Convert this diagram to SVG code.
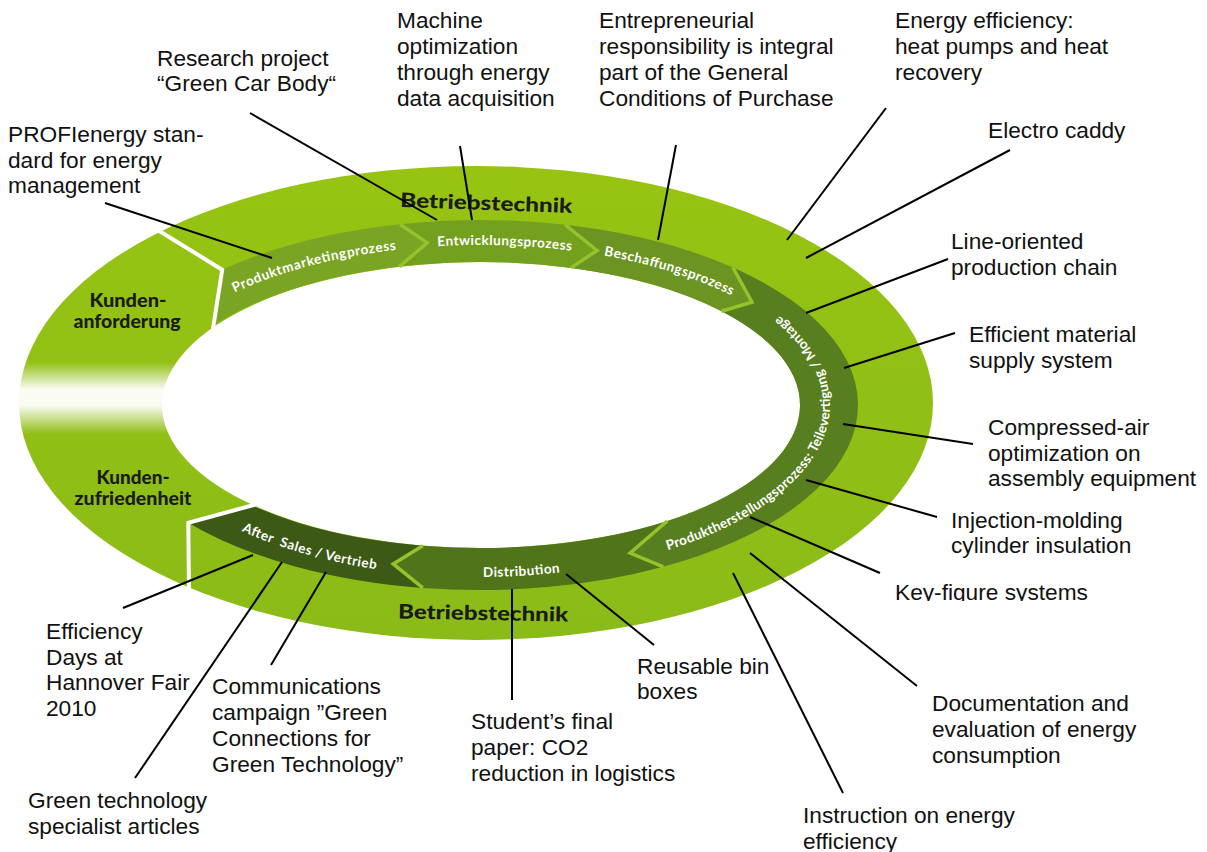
<svg xmlns="http://www.w3.org/2000/svg" width="1207" height="852" viewBox="0 0 1207 852">
<style>
.lbl{font-family:"Liberation Sans",Arial,sans-serif;font-size:22.7px;fill:#111;}
.ring{font-family:Lato,"Open Sans",sans-serif;font-weight:700;font-size:13.5px;fill:#fff;}
.big{font-family:Lato,"Open Sans",sans-serif;font-weight:900;font-size:20px;fill:#1b1b1b;}
.kd{font-family:Lato,"Open Sans",sans-serif;font-weight:900;font-size:18.5px;fill:#1b1b1b;}
.lead{stroke:#000;stroke-width:2;fill:none;}
.chev{fill:none;stroke:#93c42b;stroke-width:3.5;stroke-linejoin:miter;}
.sep{fill:none;stroke:#fff;stroke-width:4;stroke-linejoin:miter;}
</style>
<defs>
<linearGradient id="outerG" x1="0" y1="0" x2="0" y2="1">
<stop offset="0" stop-color="#97c412"/>
<stop offset="1" stop-color="#8bbb18"/>
</linearGradient>
<linearGradient id="fade" x1="0" y1="0" x2="0" y2="1">
<stop offset="0" stop-color="#fff" stop-opacity="0"/>
<stop offset="0.38" stop-color="#fff" stop-opacity="0.95"/>
<stop offset="0.6" stop-color="#fff" stop-opacity="0.95"/>
<stop offset="1" stop-color="#fff" stop-opacity="0"/>
</linearGradient>
<clipPath id="kfClip"><rect x="880" y="570" width="260" height="31"/></clipPath>
<path id="tpA" d="M233,293.3 A345,160 0 0 1 398,249.6"/>
<path id="tpB" d="M437,246.2 A345,160 0 0 1 572,250.8"/>
<path id="tpC" d="M603,255.5 A345,160 0 0 1 732,295.7"/>
<path id="tpD" d="M663,551.6 A350,172 0 0 0 775,312.5"/>
<path id="tpE" d="M483,577 A350,172 0 0 0 560,572.4"/>
<path id="tpF" d="M240,530.2 A350,172 0 0 0 378,569.5"/>
</defs>

<g id="ring-base">
<ellipse cx="476" cy="403" rx="457" ry="237" fill="url(#outerG)"/>
<ellipse cx="481" cy="405" rx="319" ry="143" fill="#fff"/>
<rect x="0" y="362" width="175" height="72" fill="url(#fade)"/>
</g>

<g id="seg-produktmarketing">
<path d="M222.2,269.7 A378,185 0 0 1 400.1,224.2 L427.2,242.9 L399.3,266.6 A320,143 0 0 0 213.2,326.1 Z" fill="#7aa524"/>
<text class="ring"><textPath href="#tpA" startOffset="50%" text-anchor="middle" textLength="168" lengthAdjust="spacing">Produktmarketingprozess</textPath></text>
</g>
<g id="seg-entwicklung">
<path d="M400.1,224.2 A378,185 0 0 1 565,224.7 L597.1,250.5 L570.9,267.9 A320,143 0 0 0 399.3,266.6 L427.2,242.9 Z" fill="#74a01f"/>
<text class="ring"><textPath href="#tpB" startOffset="50%" text-anchor="middle" textLength="134" lengthAdjust="spacing">Entwicklungsprozess</textPath></text>
</g>
<g id="seg-beschaffung">
<path d="M565,224.7 A378,185 0 0 1 732.9,267.5 L752,302.2 L721.5,311.2 A320,143 0 0 0 570.9,267.9 L597.1,250.5 Z" fill="#6b9422"/>
<text class="ring"><textPath href="#tpC" startOffset="50%" text-anchor="middle" textLength="134" lengthAdjust="spacing">Beschaffungsprozess</textPath></text>
</g>
<g id="seg-produktherstellung">
<path d="M732.9,267.5 A378,185 0 0 1 663.3,566.8 L630.2,553 L667.2,521 A320,143 0 0 0 721.5,311.2 L752,302.2 Z" fill="#587f1f"/>
<text class="ring"><textPath href="#tpD" startOffset="50%" text-anchor="middle" textLength="338" lengthAdjust="spacing">Produktherstellungsprozess: Teilevertigung / Montage</textPath></text>
</g>
<g id="seg-distribution">
<path d="M663.3,566.8 A378,185 0 0 1 422.8,587.9 L393.2,563.9 L422.8,545.7 A320,143 0 0 0 667.2,521 L630.2,553 Z" fill="#4f7419"/>
<text class="ring"><textPath href="#tpE" startOffset="50%" text-anchor="middle" textLength="77" lengthAdjust="spacing">Distribution</textPath></text>
</g>
<g id="seg-aftersales">
<path d="M422.8,587.9 A378,185 0 0 1 188.3,522.7 L252.2,505.4 A320,143 0 0 0 422.8,545.7 L393.2,563.9 Z" fill="#3c5915"/>
<text class="ring" xml:space="preserve"><textPath href="#tpF" startOffset="50%" text-anchor="middle" textLength="140" lengthAdjust="spacing">After  Sales / Vertrieb</textPath></text>
</g>

<g id="chevrons">
<polyline class="chev" points="400.1,224.2 427.2,242.9 399.3,266.6"/>
<polyline class="chev" points="565,224.7 597.1,250.5 570.9,267.9"/>
<polyline class="chev" points="732.9,267.5 752,302.2 721.5,311.2" stroke="#7aa82a"/>
<polyline class="chev" points="663.3,566.8 630.2,553 667.2,521"/>
<polyline class="chev" points="422.8,587.9 393.2,563.9 422.8,545.7"/>
</g>

<g id="separators">
<polyline class="sep" points="156,229 222.2,269.7 212.8,330"/>
<polyline class="sep" points="256,504.4 188.3,522.7 189,594"/>
</g>

<g id="kundenanforderung">
<text class="kd" x="128" y="307" text-anchor="middle" textLength="77" lengthAdjust="spacingAndGlyphs">Kunden-</text>
<text class="kd" x="127" y="328" text-anchor="middle" textLength="107" lengthAdjust="spacingAndGlyphs">anforderung</text>
</g>
<g id="kundenzufriedenheit">
<text class="kd" x="133" y="484" text-anchor="middle" textLength="73" lengthAdjust="spacingAndGlyphs">Kunden-</text>
<text class="kd" x="133" y="505" text-anchor="middle" textLength="117" lengthAdjust="spacingAndGlyphs">zufriedenheit</text>
</g>
<g id="betriebstechnik-top">
<text class="big" x="486" y="210" text-anchor="middle" textLength="172" lengthAdjust="spacingAndGlyphs" transform="rotate(2 486 210)">Betriebstechnik</text>
</g>
<g id="betriebstechnik-bottom">
<text class="big" x="483" y="620" text-anchor="middle" textLength="170" lengthAdjust="spacingAndGlyphs" transform="rotate(1 483 620)">Betriebstechnik</text>
</g>

<g id="connectors">
<line class="lead" x1="250" y1="113" x2="437" y2="220"/>
<line class="lead" x1="460" y1="146" x2="472" y2="220"/>
<line class="lead" x1="105" y1="203" x2="272" y2="258"/>
<line class="lead" x1="676" y1="145" x2="658" y2="240"/>
<line class="lead" x1="886" y1="108" x2="787" y2="240"/>
<line class="lead" x1="1010" y1="150" x2="806" y2="258"/>
<line class="lead" x1="948" y1="259" x2="806" y2="313"/>
<line class="lead" x1="955" y1="333" x2="844" y2="368"/>
<line class="lead" x1="973" y1="444" x2="843" y2="424"/>
<line class="lead" x1="937" y1="517" x2="806" y2="480"/>
<line class="lead" x1="880" y1="573" x2="750" y2="517"/>
<line class="lead" x1="917" y1="686" x2="750" y2="553"/>
<line class="lead" x1="843" y1="793" x2="733" y2="573"/>
<line class="lead" x1="654" y1="645" x2="566" y2="574"/>
<line class="lead" x1="512" y1="700" x2="512" y2="589"/>
<line class="lead" x1="271" y1="665" x2="326" y2="572"/>
<line class="lead" x1="123" y1="608" x2="253" y2="555"/>
<line class="lead" x1="135" y1="778" x2="282" y2="562"/>
</g>

<g id="n-machine"><text class="lbl" x="397" y="28">Machine</text><text class="lbl" x="397" y="54">optimization</text><text class="lbl" x="397" y="80">through energy</text><text class="lbl" x="397" y="106">data acquisition</text></g>
<g id="n-research"><text class="lbl" x="157" y="66">Research project</text><text class="lbl" x="157" y="91">“Green Car Body“</text></g>
<g id="n-profienergy"><text class="lbl" x="8" y="142">PROFIenergy stan-</text><text class="lbl" x="8" y="168">dard for energy</text><text class="lbl" x="8" y="193">management</text></g>
<g id="n-entrepreneurial"><text class="lbl" x="599" y="28">Entrepreneurial</text><text class="lbl" x="599" y="54">responsibility is integral</text><text class="lbl" x="599" y="80">part of the General</text><text class="lbl" x="599" y="106">Conditions of Purchase</text></g>
<g id="n-energy"><text class="lbl" x="895" y="28">Energy efficiency:</text><text class="lbl" x="895" y="54">heat pumps and heat</text><text class="lbl" x="895" y="80">recovery</text></g>
<g id="n-electro"><text class="lbl" x="988" y="138">Electro caddy</text></g>
<g id="n-line"><text class="lbl" x="951" y="249">Line-oriented</text><text class="lbl" x="951" y="275">production chain</text></g>
<g id="n-material"><text class="lbl" x="969" y="342">Efficient material</text><text class="lbl" x="969" y="368">supply system</text></g>
<g id="n-compressed"><text class="lbl" x="988" y="435">Compressed-air</text><text class="lbl" x="988" y="461">optimization on</text><text class="lbl" x="988" y="486">assembly equipment</text></g>
<g id="n-injection"><text class="lbl" x="951" y="528">Injection-molding</text><text class="lbl" x="951" y="553">cylinder insulation</text></g>
<g id="n-keyfigure"><text class="lbl" x="895" y="600" clip-path="url(#kfClip)">Key-figure systems</text></g>
<g id="n-documentation"><text class="lbl" x="932" y="711">Documentation and</text><text class="lbl" x="932" y="737">evaluation of energy</text><text class="lbl" x="932" y="763">consumption</text></g>
<g id="n-instruction"><text class="lbl" x="803" y="823">Instruction on energy</text><text class="lbl" x="803" y="849">efficiency</text></g>
<g id="n-reusable"><text class="lbl" x="637" y="674">Reusable bin</text><text class="lbl" x="637" y="699">boxes</text></g>
<g id="n-student"><text class="lbl" x="471" y="729">Student’s final</text><text class="lbl" x="471" y="755">paper: CO2</text><text class="lbl" x="471" y="781">reduction in logistics</text></g>
<g id="n-communications"><text class="lbl" x="212" y="694">Communications</text><text class="lbl" x="212" y="720">campaign ”Green</text><text class="lbl" x="212" y="746">Connections for</text><text class="lbl" x="212" y="772">Green Technology”</text></g>
<g id="n-efficiencydays"><text class="lbl" x="46" y="639">Efficiency</text><text class="lbl" x="46" y="665">Days at</text><text class="lbl" x="46" y="690">Hannover Fair</text><text class="lbl" x="46" y="716">2010</text></g>
<g id="n-greentech"><text class="lbl" x="28" y="808">Green technology</text><text class="lbl" x="28" y="834">specialist articles</text></g>
</svg>
